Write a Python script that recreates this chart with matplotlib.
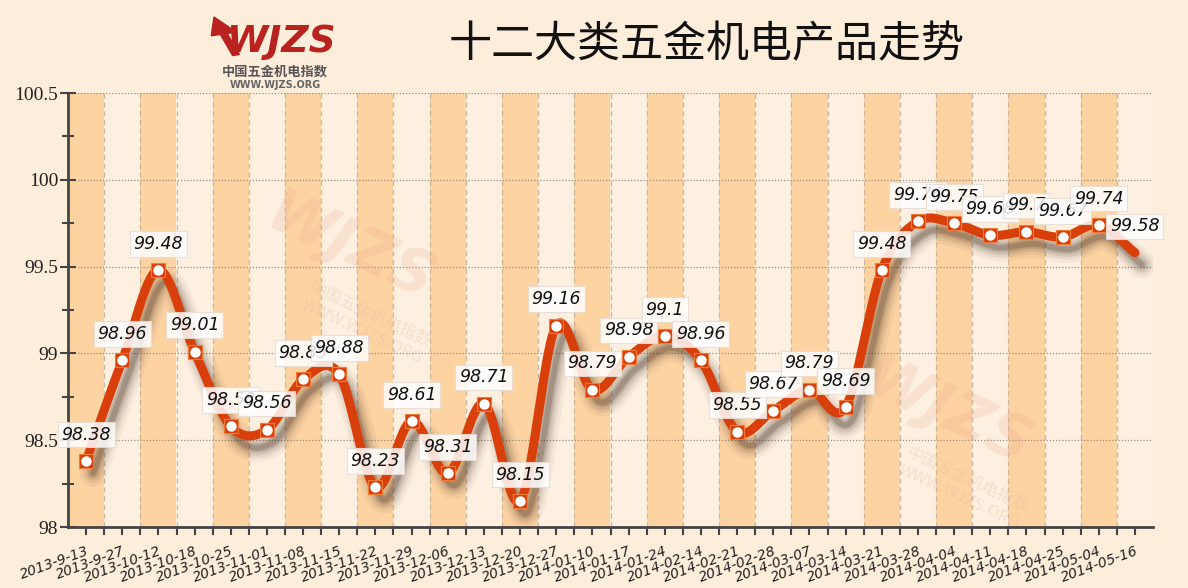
import numpy as np
import matplotlib
matplotlib.use("Agg")
import matplotlib.pyplot as plt
import matplotlib.transforms as mtransforms

plt.rcParams['font.family'] = ['DejaVu Sans', 'Noto Sans CJK SC']

dates = ['2013-9-13', '2013-9-27', '2013-10-12', '2013-10-18', '2013-10-25',
         '2013-11-01', '2013-11-08', '2013-11-15', '2013-11-22', '2013-11-29',
         '2013-12-06', '2013-12-13', '2013-12-20', '2013-12-27', '2014-01-10',
         '2014-01-17', '2014-01-24', '2014-02-14', '2014-02-21', '2014-02-28',
         '2014-03-07', '2014-03-14', '2014-03-21', '2014-03-28', '2014-04-04',
         '2014-04-11', '2014-04-18', '2014-04-25', '2014-05-04', '2014-05-16']
values = [98.38, 98.96, 99.48, 99.01, 98.58, 98.56, 98.85, 98.88, 98.23, 98.61,
          98.31, 98.71, 98.15, 99.16, 98.79, 98.98, 99.10, 98.96, 98.55, 98.67,
          98.79, 98.69, 99.48, 99.76, 99.75, 99.68, 99.70, 99.67, 99.74, 99.58]
y_ticks = [98, 98.5, 99, 99.5, 100, 100.5]
y_labels = ['98', '98.5', '99', '99.5', '100', '100.5']
title = '十二大类五金机电产品走势'

bg = '#FDEEDC'
band_dark = '#FDD3A2'
band_light = '#FEF0E0'
line_red = '#D93F0B'


def smooth(xs, ys, n=24):
    # catmull-rom curve through the points, for drawing only
    p = np.column_stack([xs, ys]).astype(float)
    p = np.vstack([2 * p[0] - p[1], p, 2 * p[-1] - p[-2]])
    out = []
    t = np.linspace(0, 1, n, endpoint=False)[:, None]
    for i in range(1, len(p) - 2):
        p0, p1, p2, p3 = p[i - 1], p[i], p[i + 1], p[i + 2]
        seg = 0.5 * ((2 * p1) + (-p0 + p2) * t + (2 * p0 - 5 * p1 + 4 * p2 - p3) * t ** 2
                     + (-p0 + 3 * p1 - 3 * p2 + p3) * t ** 3)
        out.append(seg)
    out.append(p[-2][None, :])
    out = np.vstack(out)
    return out[:, 0], out[:, 1]


fig = plt.figure(figsize=(11.88, 5.88), dpi=100, facecolor=bg)
ax = fig.add_axes([68 / 1188, 1 - 527 / 588, (1153 - 68) / 1188, (527 - 93) / 588])
ax.set_facecolor(bg)

x = np.arange(len(dates))
ax.set_xlim(-0.5, len(dates) - 0.5)
ax.set_ylim(y_ticks[0], y_ticks[-1])

for i in x:
    ax.axvspan(i - 0.5, i + 0.5, color=band_dark if i % 2 == 0 else band_light,
               lw=0, zorder=0)
    ax.axvline(i + 0.5, color='#C9B6A0', lw=0.9, ls=(0, (4, 3)), zorder=1)
for yv in y_ticks[1:]:
    ax.axhline(yv, color='#9C8C80', lw=0.9, ls=(0, (1, 1.5)), zorder=1)

# faint watermarks
for (wx, wy) in [(0.26, 0.64), (0.81, 0.26)]:
    ax.text(wx, wy, 'WJZS', transform=ax.transAxes, fontsize=44, fontweight='bold',
            style='italic', color='#E8A58A', alpha=0.2, rotation=-25,
            ha='center', va='center', zorder=1)
    ax.text(wx + 0.015, wy - 0.17, '中国五金机电指数\nWWW.WJZS.ORG', transform=ax.transAxes,
            fontsize=12, color='#E0B8A0', alpha=0.3, rotation=-25, ha='center',
            va='center', family=['Noto Sans CJK SC', 'DejaVu Sans'], zorder=1)

sx, sy = smooth(x, values)

# blurred shadow under the line
off = mtransforms.offset_copy(ax.transData, fig=fig, x=7, y=-12, units='dots')
for w, a in [(20, 0.05), (15, 0.07), (11, 0.1), (7, 0.15), (4, 0.2)]:
    ax.plot(sx, sy, color='#3B2A1C', lw=w, alpha=a, transform=off,
            solid_capstyle='round', zorder=2)

ax.plot(sx, sy, color=line_red, lw=6.5, solid_capstyle='round', zorder=3)
ax.plot(x[:-1], values[:-1], ls='none', marker='s', ms=10, mfc=line_red,
        mec='#F07A3A', mew=0.8, zorder=4)
ax.plot(x[:-1], values[:-1], ls='none', marker='o', ms=6.5, mfc='white',
        mec='white', zorder=5)

for i, v in enumerate(values):
    ax.annotate('{:g}'.format(v), (i, v), xytext=(0, 19), textcoords='offset points',
                ha='center', va='center', fontsize=12.5, style='italic', color='#111111',
                bbox=dict(boxstyle='square,pad=0.22', fc='white', ec='#E6DCD2',
                          lw=0.8, alpha=0.85),
                zorder=6 + i)

ax.set_xticks(x)
ax.set_xticks(x[:-1] + 0.5, minor=True)
ax.set_xticklabels(dates, rotation=20, ha='right', rotation_mode='anchor',
                   fontsize=10, style='italic', color='#222222')
ax.set_yticks(y_ticks)
ax.set_yticks(np.arange(98.25, 100.5, 0.5), minor=True)
ax.set_yticklabels(y_labels, family='Liberation Serif', fontsize=14, color='#222222')
ax.tick_params(axis='x', which='both', direction='out', length=6, width=1.5,
               color='#444444', pad=6)
ax.tick_params(axis='y', which='major', direction='inout', length=12, width=1.5,
               color='#444444', pad=1)
ax.tick_params(axis='y', which='minor', direction='inout', length=8, width=1.5,
               color='#444444')
for s in ['top', 'right']:
    ax.spines[s].set_visible(False)
for s in ['left', 'bottom']:
    ax.spines[s].set_color('#444444')
    ax.spines[s].set_linewidth(2)

# title and logo
fig.text(707 / 1188, 1 - 45 / 588, title, fontsize=31, ha='center', va='center',
         fontweight='light', family=['Noto Sans CJK SC', 'DejaVu Sans'], color='#111111')
fig.text(282 / 1188, 1 - 42 / 588, 'WJZS', fontsize=27, fontweight='bold', style='italic',
         color='#B8231F', ha='center', va='center')
fig.text(275 / 1188, 1 - 72 / 588, '中国五金机电指数', fontsize=9.5, fontweight='bold',
         color='#555555', ha='center', va='center',
         family=['Noto Sans CJK SC', 'DejaVu Sans'])
fig.text(275 / 1188, 1 - 85 / 588, 'WWW.WJZS.ORG', fontsize=7, fontweight='bold',
         color='#666666', ha='center', va='center')
fig.add_artist(matplotlib.patches.FancyArrow(
    236 / 1188, 1 - 55 / 588, -22 / 1188, 38 / 588, width=0.006, head_width=0.022,
    head_length=0.03, color='#B8231F', transform=fig.transFigure, length_includes_head=True))

fig.savefig('out.png', dpi=100, facecolor=bg)
